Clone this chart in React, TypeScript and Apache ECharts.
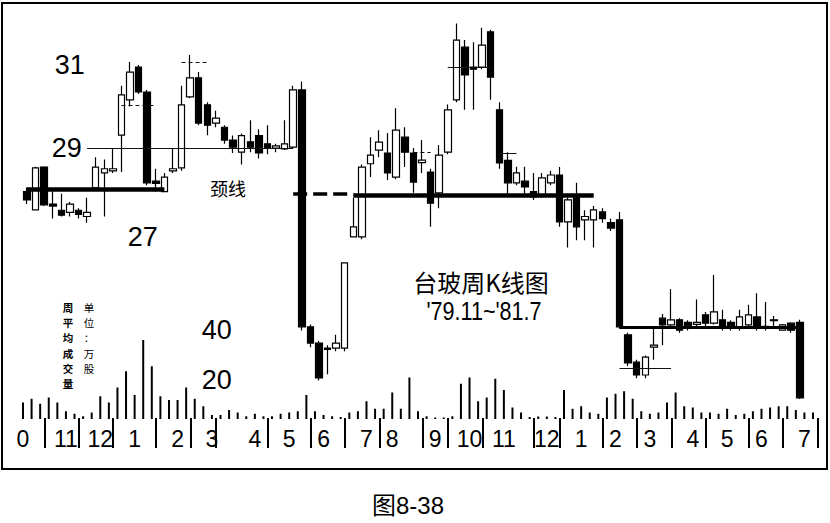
import React, { useEffect, useRef } from "react";
import * as echarts from "echarts";

// ---- data -------------------------------------------------------------
const weeks: string[] = Array.from({ length: 93 }, (_, i) => `W${i + 1}`);

// weekly candles: open, close, low, high
const opens = [
  27.95, 27.51, 28.54, 27.65, 27.5, 27.45, 27.5, 27.35, 28.04, 28.4,
  28.45, 29.31, 30.16, 30.95, 30.35, 28.2, 27.95, 28.45, 28.52, 30.23,
  30.69, 30.04, 29.6, 29.5, 29.19, 28.9, 29.15, 29.3, 29.1, 29.0,
  28.98, 29.02, 30.4, 24.69, 24.3, 24.15, 24.18, 24.18, 26.86, 26.86,
  28.62, 28.95, 28.88, 28.3, 29.26, 28.88, 28.65, 28.42, 27.92, 28.9,
  30.16, 31.43, 30.95, 30.95, 31.8, 29.92, 28.7, 28.16, 28.2, 27.95,
  27.87, 28.16, 28.35, 27.22, 27.82, 27.27, 27.27, 27.46, 27.2, 27.27,
  24.5, 23.84, 23.53, 24.2, 24.9, 24.74, 24.86, 24.8, 24.75, 24.98,
  24.78, 24.86, 24.8, 24.66, 24.74, 24.93, 24.7, 24.86, 24.61, 24.78,
  24.8,
];
const closes = [
  27.75, 28.52, 27.63, 27.6, 27.38, 27.65, 27.4, 27.45, 28.54, 28.5,
  28.5, 30.28, 30.83, 30.35, 28.16, 28.15, 28.3, 28.5, 30.04, 30.69,
  29.6, 29.55, 29.72, 29.19, 29.02, 29.3, 29.02, 28.88, 29.0, 29.05,
  29.1, 30.4, 24.69, 24.3, 23.46, 24.18, 24.3, 26.23, 27.1, 28.54,
  28.83, 29.14, 28.4, 29.43, 28.9, 28.18, 28.71, 27.67, 28.83, 29.92,
  31.6, 30.76, 30.9, 31.48, 30.71, 28.64, 28.16, 28.4, 28.06, 27.82,
  28.28, 28.35, 27.22, 27.75, 27.1, 27.35, 27.51, 27.3, 27.07, 24.69,
  23.82, 23.53, 23.96, 24.25, 24.74, 24.86, 24.61, 24.66, 24.8, 24.78,
  25.05, 24.66, 24.66, 24.93, 24.98, 24.66, 24.66, 24.84, 24.74, 24.61,
  22.98,
];
const lows = [
  27.65, 27.5, 27.6, 27.3, 27.35, 27.35, 27.3, 27.2, 28.0, 27.35,
  28.4, 28.42, 30.0, 30.3, 28.1, 27.95, 27.95, 28.4, 28.45, 30.2,
  29.55, 29.31, 29.5, 29.1, 28.88, 28.6, 28.9, 28.75, 28.85, 28.9,
  28.95, 28.98, 24.6, 24.2, 23.4, 23.55, 24.1, 24.1, 26.85, 26.8,
  28.3, 28.78, 28.23, 28.25, 28.54, 27.92, 28.4, 27.1, 27.55, 28.85,
  30.1, 29.92, 29.92, 30.9, 30.16, 28.5, 27.87, 28.1, 27.9, 27.75,
  27.8, 28.1, 27.1, 26.6, 26.78, 26.78, 26.6, 27.2, 27.0, 24.65,
  23.75, 23.45, 23.45, 23.9, 24.25, 24.7, 24.55, 24.6, 24.7, 24.7,
  24.75, 24.6, 24.6, 24.6, 24.7, 24.6, 24.6, 24.7, 24.6, 24.55,
  22.95,
];
const highs = [
  28.05, 28.55, 28.56, 27.96, 27.9, 27.7, 27.55, 27.8, 28.78, 28.72,
  29.0, 30.5, 31.07, 31.0, 30.4, 28.5, 28.4, 29.0, 30.5, 31.24,
  30.83, 30.1, 29.9, 29.55, 29.3, 29.35, 29.67, 29.45, 29.55, 29.1,
  29.67, 30.5, 30.6, 24.75, 24.35, 24.25, 24.5, 26.25, 27.8, 28.6,
  29.26, 29.43, 29.36, 29.96, 29.5, 29.0, 29.19, 28.5, 29.07, 30.05,
  32.0, 31.6, 31.55, 31.9, 31.85, 30.1, 28.9, 28.55, 28.55, 28.4,
  28.4, 28.45, 28.54, 27.8, 28.16, 27.5, 27.6, 27.55, 27.3, 27.46,
  24.55, 23.9, 24.0, 24.7, 25.0, 25.6, 24.9, 24.85, 25.35, 25.05,
  25.94, 25.1, 24.85, 25.1, 25.22, 25.5, 25.29, 24.95, 24.76, 24.8,
  24.86,
];

// weekly average volume (10k shares)
const volumes = [
  11, 12.5, 10.5, 13, 11, 7.5, 6.5, 5.5, 7, 13.5,
  11, 17, 23.5, 14, 36, 25.5, 13.5, 12, 12, 17,
  12.5, 9.5, 6, 6, 8, 7, 5.5, 6.5, 5.5, 5.5,
  6.5, 7, 7.5, 14, 7.5, 6, 5.5, 5.2, 7, 7.5,
  11.5, 8.5, 8.5, 15, 8.5, 21, 7.5, 5.5, 5, 5,
  5.5, 18.5, 21, 11.5, 13, 20.5, 16, 9, 7, 5.2,
  5.4, 5.4, 5.2, 16, 8.5, 9.5, 7, 6.5, 13, 14.5,
  15.5, 12.5, 7.5, 6.5, 7, 11, 15, 9.5, 9, 7,
  7, 6.5, 8.5, 6, 6.5, 7.5, 8.5, 9, 9.5, 9.5,
  8, 7, 7,
];

// month axis
const monthLabelWeeks = [0, 5, 9, 13, 18, 22, 27, 31, 35, 40, 43, 48, 52, 56, 61, 65, 69, 73, 78, 82, 86, 91];
const monthLabelTexts = ["0", "11", "12", "1", "2", "3", "4", "5", "6", "7", "8", "9", "10", "11", "12", "1", "2", "3", "4", "5", "6", "7"];
const monthStartWeeks = [3, 7, 11, 16, 20, 23, 29, 34, 38, 42, 47, 50, 54, 60, 63, 68, 72, 76, 80, 85, 89];

const priceTickValues = [27, 29, 31];
const volumeTickValues = [20, 40];

// neckline segments: [fromWeek, toWeek, price]
const necklineSolid: [number, number, number][] = [
  [0, 16, 28.0],
  [38, 66, 27.87],
];
const necklineDashed: [number, number, number][] = [[31, 38, 27.9]];
const necklineLow: [number, number, number][] = [[69, 90, 24.69]];
// thin guide lines
const guideSolid: [number, number, number][] = [
  [7, 31, 29.0],
  [49, 54, 30.95],
  [55, 57, 28.88],
  [69, 75, 23.7],
];
const guideDashed: [number, number, number][] = [
  [11, 15, 30.04],
  [18, 21, 31.07],
  [45, 47, 28.9],
];

// ---- chart ------------------------------------------------------------
const NARROW = "'Liberation Sans Narrow', 'Liberation Sans', Arial, sans-serif";
const SANS = "'Liberation Sans', Arial, sans-serif";
const CJK = "'Noto Sans CJK SC', sans-serif";

function seg(list: [number, number, number][], lineStyle: any) {
  return list.map(([a, b, v]) => [
    { coord: [weeks[a], v], lineStyle },
    { coord: [weeks[b], v] },
  ]);
}

export default function App() {
  const ref = useRef<HTMLDivElement>(null);

  useEffect(() => {
    if (!ref.current) return;
    const chart = echarts.init(ref.current, null, { renderer: "svg" });

    const candles = opens.map((o, i) => [o, closes[i], lows[i], highs[i]]);

    const option: any = {
      animation: false,
      backgroundColor: "#fff",
      grid: [
        { left: 22.7, top: 2.75, width: 798.6, height: 435.75 },
        { left: 18.7, top: 280, width: 798.6, height: 139 },
        { left: 18.7, top: 418, width: 798.6, height: 30 },
      ],
      xAxis: [
        {
          type: "category",
          gridIndex: 0,
          data: weeks,
          boundaryGap: true,
          show: false,
        },
        {
          type: "category",
          gridIndex: 1,
          data: weeks,
          boundaryGap: true,
          axisLine: { show: false },
          splitLine: { show: false },
          axisTick: { show: false },
          axisLabel: {
            interval: (i: number) => monthLabelWeeks.includes(i),
            formatter: (_v: string, i: number) => {
              const k = monthLabelWeeks.indexOf(i);
              return k >= 0 ? monthLabelTexts[k] : "";
            },
            margin: 8,
            fontSize: 23,
            color: "#000",
            fontFamily: NARROW,
          },
        },
        {
          type: "category",
          gridIndex: 2,
          data: weeks,
          boundaryGap: true,
          axisLine: { show: false },
          axisTick: { show: false },
          axisLabel: { show: false },
          splitLine: {
            show: true,
            interval: (i: number) => monthStartWeeks.includes(i),
            lineStyle: { color: "#000", width: 2 },
          },
        },
      ],
      yAxis: [
        {
          type: "value",
          gridIndex: 0,
          min: 22,
          max: 32.5,
          axisLine: { show: false },
          axisTick: { show: false },
          splitLine: { show: false },
          axisLabel: {
            inside: true,
            margin: 29,
            customValues: priceTickValues,
            formatter: (v: number) =>
              v === 27 ? `{c|${v}}` : v === 31 ? `{a|${v}}` : `{b|${v}}`,
            rich: {
              a: { fontSize: 27, fontFamily: SANS, color: "#000", padding: [0, 0, 0, 3] },
              b: { fontSize: 27, fontFamily: SANS, color: "#000" },
              c: { fontSize: 27, fontFamily: SANS, color: "#000", padding: [12, 0, 0, 76] },
            },
          },
        },
        {
          type: "value",
          gridIndex: 1,
          min: 4.4,
          max: 60,
          axisLine: { show: false },
          axisTick: { show: false },
          splitLine: { show: false },
          axisLabel: {
            inside: true,
            margin: 183,
            customValues: volumeTickValues,
            fontSize: 27,
            fontFamily: SANS,
            color: "#000",
          },
        },
        {
          type: "value",
          gridIndex: 2,
          min: 0,
          max: 1,
          show: false,
        },
      ],
      series: [
        {
          type: "candlestick",
          xAxisIndex: 0,
          yAxisIndex: 0,
          data: candles,
          barWidth: 7,
          itemStyle: {
            color: "#fff",
            color0: "#000",
            borderColor: "#000",
            borderColor0: "#000",
            borderWidth: 1.2,
          },
          markLine: {
            silent: true,
            symbol: ["none", "none"],
            label: { show: false },
            animation: false,
            data: [
              ...seg(necklineSolid, { color: "#000", width: 4.5, type: "solid" }),
              ...seg(necklineDashed, { color: "#000", width: 3.5, type: [14, 6] }),
              ...seg(necklineLow, { color: "#000", width: 3, type: "solid" }),
              ...seg(guideSolid, { color: "#111", width: 1, type: "solid" }),
              ...seg(guideDashed, { color: "#111", width: 1, type: [4, 3] }),
            ],
          },
        },
        {
          type: "bar",
          xAxisIndex: 1,
          yAxisIndex: 1,
          data: volumes,
          barWidth: 2,
          clip: true,
          itemStyle: { color: "#000" },
        },
      ],
      graphic: [
        {
          type: "rect",
          silent: true,
          z: 100,
          shape: { x: 2, y: 3, width: 825, height: 466 },
          style: { fill: "none", stroke: "#000", lineWidth: 2 },
        },
        {
          type: "text",
          x: 228,
          y: 188,
          style: { text: "颈线", fontSize: 18, fontFamily: CJK, fill: "#000", align: "center", verticalAlign: "middle" },
        },
        {
          type: "text",
          x: 481,
          y: 281,
          style: { text: "台玻周K线图", fontSize: 24, fontFamily: CJK, fill: "#000", align: "center", verticalAlign: "middle" },
        },
        {
          type: "text",
          x: 484,
          y: 311,
          scaleX: 0.83,
          style: { text: "'79.11~'81.7", fontSize: 26, fontFamily: SANS, fill: "#000", align: "center", verticalAlign: "middle" },
        },
        {
          type: "text",
          x: 68,
          y: 299.5,
          style: {
            text: "周\n平\n均\n成\n交\n量",
            fontSize: 10.5,
            lineHeight: 15.3,
            fontFamily: CJK,
            fontWeight: "bold",
            fill: "#000",
            align: "center",
            verticalAlign: "top",
          },
        },
        {
          type: "text",
          x: 89,
          y: 299.5,
          style: {
            text: "单\n位\n：\n万\n股",
            fontSize: 10.5,
            lineHeight: 15.3,
            fontFamily: CJK,
            fill: "#000",
            align: "center",
            verticalAlign: "top",
          },
        },
        {
          type: "text",
          x: 408,
          y: 505,
          style: { text: "图8-38", fontSize: 24, fontFamily: `'Liberation Sans', ${CJK}`, fill: "#000", align: "center", verticalAlign: "middle" },
        },
      ],
    };

    chart.setOption(option);
    return () => chart.dispose();
  }, []);

  return (
    <div
      ref={ref}
      style={{ position: "fixed", left: 0, top: 0, width: 830, height: 523, background: "#fff" }}
    />
  );
}
